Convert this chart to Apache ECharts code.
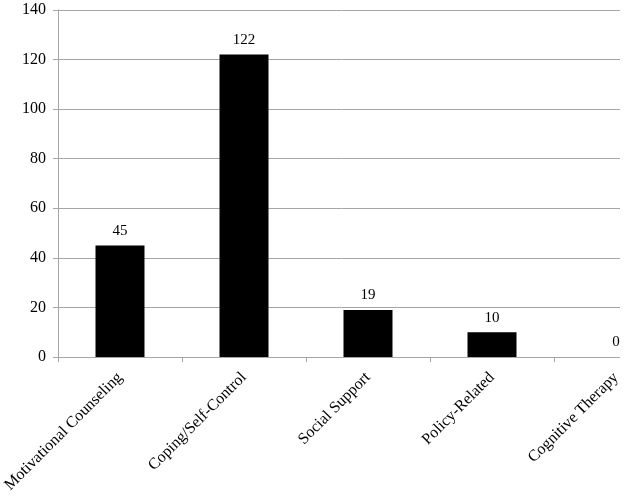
<!DOCTYPE html>
<html>
<head>
<meta charset="utf-8">
<script src="https://cdn.jsdelivr.net/npm/echarts@6/dist/echarts.min.js"></script>
<style>
    html, body { margin: 0; padding: 0; background: #fff; }
    #wrap { width: 620px; height: 496px; overflow: hidden; }
    #chart { width: 624px; height: 496px; }
</style>
</head>
<body>
<div id="wrap"><div id="chart"></div></div>
<script>
    // categories and values
    var categories = ['Motivational Counseling', 'Coping/Self-Control', 'Social Support', 'Policy-Related', 'Cognitive Therapy'];
    var counts = [45, 122, 19, 10, 0];
    var yTicks = [0, 20, 40, 60, 80, 100, 120, 140];

    var serif = "'Liberation Serif', 'Times New Roman', serif";
    var myChart = echarts.init(document.getElementById('chart'));
    var option = {
        backgroundColor: '#fff',
        animation: false,
        grid: {
            left: 58,
            top: 10,
            width: 620,
            height: 347,
            containLabel: false,
            outerBoundsMode: 'none'
        },
        xAxis: {
            type: 'category',
            data: categories,
            axisLine: { lineStyle: { color: '#a6a6a6', width: 1 } },
            axisTick: { show: true, length: 5, alignWithLabel: false, lineStyle: { color: '#a6a6a6' } },
            axisLabel: {
                interval: 0,
                rotate: 45,
                margin: 18,
                color: '#000',
                fontFamily: serif,
                fontSize: 16
            }
        },
        yAxis: {
            type: 'value',
            min: yTicks[0],
            max: yTicks[yTicks.length - 1],
            interval: 20,
            axisLine: { show: true, lineStyle: { color: '#a6a6a6', width: 1 } },
            axisTick: { show: true, length: 5, lineStyle: { color: '#a6a6a6' } },
            splitLine: { lineStyle: { color: '#a6a6a6', width: 1 } },
            axisLabel: {
                margin: 12,
                color: '#000',
                fontFamily: serif,
                fontSize: 16
            }
        },
        series: [{
            type: 'bar',
            data: counts,
            barWidth: '39.5%',
            itemStyle: { color: '#000' },
            label: {
                show: true,
                position: 'top',
                distance: 7,
                color: '#000',
                fontFamily: serif,
                fontSize: 15
            }
        }]
    };
    myChart.setOption(option);
</script>
</body>
</html>
